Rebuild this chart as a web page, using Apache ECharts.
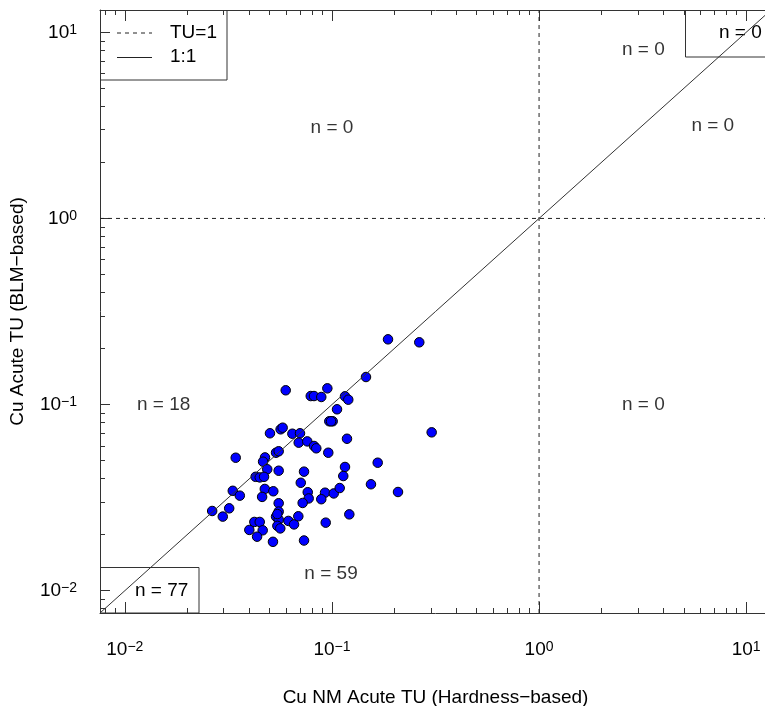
<!DOCTYPE html>
<html><head><meta charset="utf-8">
<script src="https://cdn.jsdelivr.net/npm/echarts@6/dist/echarts.min.js"></script>
<style>html,body{margin:0;padding:0;background:#fff;overflow:hidden;width:765px;height:706px}#c{width:800px;height:706px}</style>
</head><body><div id="c"></div>
<script>
// axis range (log10 -2.12 .. 1.12, same on both axes)
const AXIS_MIN = 0.007586;
const AXIS_MAX = 13.18;
const MAJOR_TICKS = [0.01, 0.1, 1, 10];
const MINOR_TICKS = [0.008, 0.009,
  0.02, 0.03, 0.04, 0.05, 0.06, 0.07, 0.08, 0.09,
  0.2, 0.3, 0.4, 0.5, 0.6, 0.7, 0.8, 0.9,
  2, 3, 4, 5, 6, 7, 8, 9];
const TU_THRESHOLD = 1;

// Cu NM acute TU (hardness-based), x
const PX = [0.1865,0.264,0.146,0.0598,0.0790,0.0819,0.0888,0.0950,0.1156,0.1199,
  0.1058,0.0971,0.1008,0.303,0.0502,0.0565,0.0578,0.0644,0.0701,0.0691,
  0.0760,0.0819,0.0840,0.1182,0.0960,0.0343,0.0475,0.0465,0.0537,0.0553,
  0.0487,0.0428,0.0448,0.0470,0.0553,0.0733,0.1156,0.1134,0.1663,0.0707,
  0.0332,0.0359,0.0474,0.0521,0.0460,0.0764,0.0772,0.0722,0.0926,0.1020,
  0.1090,0.0888,0.1543,0.2084,0.0553,0.0264,0.0297,0.0319,0.0553,0.0537,
  0.0553,0.0616,0.0656,0.0688,0.1213,0.0933,0.0422,0.0448,0.0399,0.0463,
  0.0435,0.0545,0.0563,0.0519,0.0733,0.0545,0.0990];
// Cu acute TU (BLM-based), y
const PY = [0.2241,0.216,0.1406,0.1193,0.1111,0.1111,0.1098,0.1222,0.1107,0.1062,
  0.0943,0.0813,0.0813,0.0709,0.0701,0.0736,0.0751,0.0697,0.0701,0.0624,
  0.0634,0.0599,0.0582,0.0655,0.0551,0.0518,0.0520,0.0493,0.0551,0.0561,
  0.0449,0.0409,0.0406,0.0409,0.0441,0.0436,0.0462,0.0413,0.0487,0.0380,
  0.0344,0.0324,0.0352,0.0342,0.0319,0.0338,0.0313,0.0296,0.0336,0.0333,
  0.0356,0.0310,0.0373,0.0339,0.0295,0.0268,0.0250,0.0277,0.0266,0.0250,
  0.0241,0.0237,0.0227,0.0251,0.0257,0.0232,0.0234,0.0234,0.0212,0.0211,
  0.0195,0.0223,0.0216,0.0183,0.0186,0.0258,0.0813];

// quadrant annotations (data coordinates)
const NOTE_X = [0.1, 3.19, 6.9, 0.0154, 3.19, 0.099];
const NOTE_Y = [3.06, 8.04, 3.16, 0.1, 0.1, 0.01228];
const NOTE_TEXT = ['n = 0', 'n = 0', 'n = 0', 'n = 18', 'n = 0', 'n = 59'];
const BOX_TEXT = ['n = 77', 'n = 0'];
const LEGEND_LABELS = ['TU=1', '1:1'];
const X_TITLE = 'Cu NM Acute TU (Hardness\u2212based)';
const Y_TITLE = 'Cu Acute TU (BLM\u2212based)';

const FONT = 'Liberation Sans';
const FS = 19;
const G = {left: 100, top: 10, width: 671, height: 603};
const AX = '#333';
const TXT = '#000';

function powLabel(v) {
  const e = Math.round(Math.log10(v));
  return '{b|10}{s|' + String(e).replace('-', '\u2212') + '}';
}
const rich = {
  b: {fontFamily: FONT, fontSize: FS, lineHeight: FS, color: TXT, padding: [6, 0, 0, 0], verticalAlign: 'bottom'},
  s: {fontFamily: FONT, fontSize: 14, lineHeight: 14, color: TXT, verticalAlign: 'top'}
};

function axisDef(kind, pos, ticks, len, opts) {
  const a = {
    type: 'log', logBase: 10, min: AXIS_MIN, max: AXIS_MAX, position: pos,
    gridIndex: 0,
    axisLine: {show: !!opts.line, lineStyle: {color: AX, width: 1}},
    axisTick: {show: true, inside: true, length: len, customValues: ticks, lineStyle: {color: AX, width: 1}},
    axisLabel: {show: false},
    splitLine: {show: false},
    minorTick: {show: false}
  };
  if (opts.label) {
    a.axisLabel = {show: true, customValues: MAJOR_TICKS, formatter: powLabel, rich: rich, margin: kind === 'x' ? 27 : 23};
  }
  if (opts.name) {
    a.name = opts.name; a.nameLocation = 'middle'; a.nameGap = opts.gap;
    a.nameTextStyle = {fontFamily: FONT, fontSize: FS, color: TXT};
  }
  return a;
}

const chart = echarts.init(document.getElementById('c'), null, {renderer: 'canvas'});
const points = PX.map((x, i) => [x, PY[i]]);
const notes = NOTE_X.map((x, i) => [x, NOTE_Y[i], NOTE_TEXT[i]]);

const bl = {x: G.left, y: 567.5, w: 98.5, h: G.top + G.height - 567.5};
const tr = {x: 685.5, y: G.top, w: 85, h: 46.5};

chart.setOption({
  animation: false,
  backgroundColor: '#fff',
  grid: {left: G.left, top: G.top, width: G.width, height: G.height, containLabel: false, outerBoundsMode: 'none'},
  xAxis: [
    axisDef('x', 'bottom', MAJOR_TICKS, 11, {line: true, label: true, name: X_TITLE, gap: 75}),
    axisDef('x', 'bottom', MINOR_TICKS, 5, {}),
    axisDef('x', 'top', MAJOR_TICKS, 11, {line: true}),
    axisDef('x', 'top', MINOR_TICKS, 5, {})
  ],
  yAxis: [
    axisDef('y', 'left', MAJOR_TICKS, 10, {line: true, label: true, name: Y_TITLE, gap: 73}),
    axisDef('y', 'left', MINOR_TICKS, 5, {})
  ],
  series: [
    {
      type: 'scatter', xAxisIndex: 0, yAxisIndex: 0, data: points,
      symbol: 'circle', symbolSize: 9.5,
      itemStyle: {color: '#0000ff', borderColor: '#000', borderWidth: 1, opacity: 1},
      z: 3
    },
    {
      type: 'line', xAxisIndex: 0, yAxisIndex: 0,
      data: [[AXIS_MIN, AXIS_MIN], [AXIS_MAX, AXIS_MAX]],
      showSymbol: false, symbol: 'none', lineStyle: {color: '#333', width: 1}, z: 4, silent: true
    },
    {
      type: 'line', xAxisIndex: 0, yAxisIndex: 0,
      data: [[TU_THRESHOLD, AXIS_MIN], [TU_THRESHOLD, AXIS_MAX]],
      symbol: 'none', lineStyle: {color: '#222', width: 1, type: [4, 4]}, z: 2, silent: true
    },
    {
      type: 'line', xAxisIndex: 0, yAxisIndex: 0,
      data: [[AXIS_MIN, TU_THRESHOLD], [AXIS_MAX, TU_THRESHOLD]],
      symbol: 'none', lineStyle: {color: '#222', width: 1, type: [4, 4]}, z: 2, silent: true
    },
    {
      type: 'scatter', xAxisIndex: 0, yAxisIndex: 0, data: notes,
      symbolSize: 0, silent: true, z: 5,
      label: {show: true, position: 'inside', formatter: p => p.data[2],
        fontFamily: FONT, fontSize: FS, color: TXT}
    }
  ],
  graphic: [
    // legend box
    {type: 'rect', shape: {x: 100.5, y: 10.5, width: 126.5, height: 69.5},
      style: {fill: 'none', stroke: AX, lineWidth: 1}, z: 10},
    {type: 'line', shape: {x1: 117, y1: 33, x2: 152, y2: 33},
      style: {stroke: '#222', lineWidth: 1, lineDash: [4, 4]}, z: 10},
    {type: 'text', x: 170, y: 33, style: {text: LEGEND_LABELS[0], fontFamily: FONT, fontSize: FS, fill: TXT, verticalAlign: 'middle'}, z: 10},
    {type: 'line', shape: {x1: 117, y1: 57.5, x2: 152, y2: 57.5},
      style: {stroke: '#222', lineWidth: 1}, z: 10},
    {type: 'text', x: 170, y: 57, style: {text: LEGEND_LABELS[1], fontFamily: FONT, fontSize: FS, fill: TXT, verticalAlign: 'middle'}, z: 10},
    // bottom-left count box
    {type: 'rect', shape: {x: bl.x + 0.5, y: bl.y, width: bl.w, height: bl.h},
      style: {fill: 'none', stroke: AX, lineWidth: 1}, z: 1},
    {type: 'text', x: 135, y: 590.5, style: {text: BOX_TEXT[0], fontFamily: FONT, fontSize: FS, fill: TXT, verticalAlign: 'middle'}, z: 1},
    // top-right count box
    {type: 'rect', shape: {x: tr.x, y: tr.y + 0.5, width: tr.w, height: tr.h},
      style: {fill: 'none', stroke: AX, lineWidth: 1}, z: 1},
    {type: 'text', x: 719, y: 33, style: {text: BOX_TEXT[1], fontFamily: FONT, fontSize: FS, fill: TXT, verticalAlign: 'middle'}, z: 1}
  ]
});
</script></body></html>
